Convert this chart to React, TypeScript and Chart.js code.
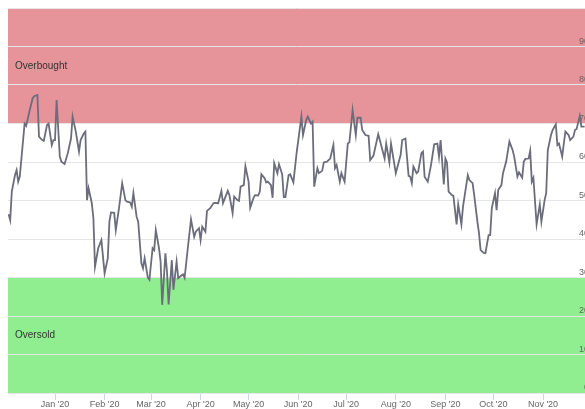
import React, { useEffect, useRef } from "react";
import { Chart, registerables } from "chart.js";

Chart.register(...registerables);

// Day offsets relative to 1 Jan 2020 (2020 is a leap year)
const days: number[] = [
  -29, -28, -27, -25, -24, -23, -22, -19, -18, -16, -14, -13, -11, -10, -8, -7, -5, -4, -2, -1,
  0, 1, 3, 4, 6, 8, 10, 11, 13, 15, 16, 18, 19, 20, 21, 23, 24, 25, 27, 29,
  31, 33, 34, 35, 37, 38, 40, 42, 44, 45, 47, 48, 49, 51, 52, 54, 55, 56, 58, 59,
  61, 62, 63, 65, 66, 67, 69, 70, 71, 73, 74, 76, 77, 79, 80, 81, 83, 85, 87, 88,
  90, 91, 92, 94, 95, 97, 99, 100, 102, 104, 105, 108, 109, 111, 112, 114, 115, 116, 118, 119,
  121, 122, 124, 125, 127, 128, 129, 131, 132, 133, 135, 136, 137, 139, 140, 142, 143, 144, 146, 147,
  149, 151, 154, 155, 157, 158, 160, 161, 162, 164, 165, 167, 168, 170, 172, 174, 175, 176, 178, 179,
  181, 183, 184, 186, 188, 189, 191, 192, 194, 196, 197, 199, 202, 203, 206, 207, 209, 210, 213, 216,
  217, 219, 221, 222, 223, 224, 226, 227, 229, 230, 231, 233, 235, 237, 239, 240, 241, 243, 244, 245,
  246, 248, 249, 251, 252, 254, 255, 258, 259, 261, 262, 264, 265, 266, 268, 269, 271, 272, 273, 275,
  276, 277, 279, 280, 282, 284, 286, 287, 289, 290, 292, 293, 294, 296, 297, 298, 299, 301, 303, 304,
  306, 307, 308, 310, 311, 313, 314, 315, 317, 318, 319, 321, 322, 324, 325, 326, 328, 329, 331,
];

const rsiValues: number[] = [
  46.4, 44.9, 52.3, 56.6, 57.9, 54.9, 56.2, 70.0, 69.4, 73.1, 76.5, 77.1, 77.4, 66.6, 65.7, 65.5, 69.6, 70.0, 64.4, 65.7,
  65.7, 76.1, 61.4, 60.1, 59.5, 62.3, 66.1, 71.8, 67.9, 62.7, 65.7, 67.4, 67.9, 50.1, 53.2, 49.3, 45.4, 32.8, 37.6, 39.7,
  31.1, 35.0, 44.5, 46.9, 46.8, 42.3, 48.0, 54.5, 50.1, 49.7, 49.5, 48.4, 51.9, 45.8, 44.5, 33.7, 32.4, 35.0, 30.0, 29.4,
  37.6, 37.1, 42.3, 37.6, 34.1, 22.9, 36.3, 31.5, 23.0, 34.5, 26.8, 34.1, 29.8, 30.5, 30.8, 29.9, 37.6, 45.1, 40.6, 41.9,
  42.8, 39.7, 43.2, 41.9, 47.3, 48.0, 49.3, 49.4, 49.3, 52.5, 49.3, 52.5, 51.4, 46.7, 51.0, 50.1, 49.9, 53.6, 54.0, 58.9,
  54.9, 48.1, 50.6, 51.4, 51.3, 52.3, 56.8, 55.8, 54.7, 54.9, 54.0, 50.7, 59.7, 57.1, 59.4, 56.8, 50.9, 50.9, 56.6, 56.8,
  54.7, 62.3, 71.8, 67.0, 70.9, 71.8, 70.0, 70.5, 53.6, 58.4, 57.1, 57.7, 59.9, 60.1, 60.9, 64.4, 58.4, 59.2, 54.9, 57.1,
  54.9, 64.8, 65.1, 73.5, 67.0, 71.5, 71.5, 68.3, 67.0, 66.8, 60.5, 61.6, 67.2, 65.7, 60.9, 64.8, 59.9, 64.8, 57.1, 61.8,
  65.7, 66.1, 56.4, 56.2, 54.5, 58.8, 57.1, 57.5, 62.3, 62.7, 56.2, 54.9, 59.2, 64.6, 64.8, 61.4, 65.7, 54.2, 60.9, 59.9,
  52.3, 51.4, 51.2, 43.8, 49.0, 43.8, 48.4, 56.6, 55.3, 54.5, 51.4, 44.5, 41.5, 37.1, 36.4, 36.3, 41.0, 41.0, 48.0, 51.9,
  47.5, 52.7, 54.0, 57.1, 60.1, 65.3, 63.1, 61.4, 56.2, 57.3, 55.9, 60.1, 60.8, 60.9, 62.9, 54.9, 55.9, 43.8, 49.0, 44.5,
  50.1, 51.9, 63.1, 67.0, 68.3, 69.8, 64.4, 64.8, 61.4, 64.8, 67.9, 67.0, 65.7, 66.6, 68.3, 68.6, 72.0, 69.2, 69.2,
];

const monthTickDays: number[] = [0, 31, 60, 91, 121, 152, 182, 213, 244, 274, 305];
const monthTickLabels: string[] = [
  "Jan '20", "Feb '20", "Mar '20", "Apr '20", "May '20", "Jun '20",
  "Jul '20", "Aug '20", "Sep '20", "Oct '20", "Nov '20",
];

const overboughtBand = [70, 100];
const oversoldBand = [0, 30];
const bandLabels = ["Overbought", "Oversold"];

const FONT = "'Liberation Sans', Arial, sans-serif";

const bandsPlugin = {
  id: "rsiBands",
  beforeDraw(chart: any) {
    const { ctx, chartArea, scales } = chart;
    const y = scales.y;
    const bands = [
      { range: overboughtBand, color: "#e6949a", label: bandLabels[0] },
      { range: oversoldBand, color: "#90ee90", label: bandLabels[1] },
    ];
    ctx.save();
    for (const b of bands) {
      const top = y.getPixelForValue(b.range[1]);
      const bottom = y.getPixelForValue(b.range[0]);
      ctx.fillStyle = b.color;
      ctx.fillRect(chartArea.left, top, chartArea.right - chartArea.left, bottom - top);
      ctx.fillStyle = "#333333";
      ctx.font = `10px ${FONT}`;
      ctx.textAlign = "left";
      ctx.textBaseline = "middle";
      ctx.fillText(b.label, chartArea.left + 7, (top + bottom) / 2);
    }
    ctx.restore();
  },
};

export default function App() {
  const canvasRef = useRef<HTMLCanvasElement | null>(null);

  useEffect(() => {
    if (!canvasRef.current) return;
    const chart = new Chart(canvasRef.current, {
      type: "line",
      data: {
        datasets: [
          {
            label: "RSI",
            data: days.map((d, i) => ({ x: d, y: rsiValues[i] })),
            borderColor: "#6c6c7c",
            borderWidth: 1.8,
            pointRadius: 0,
            fill: false,
            tension: 0,
          },
        ],
      },
      options: {
        animation: false,
        responsive: true,
        maintainAspectRatio: false,
        layout: { padding: { left: 8, top: 8, right: 0, bottom: 0 } },
        plugins: {
          legend: { display: false },
          tooltip: { enabled: false },
        },
        scales: {
          x: {
            type: "linear",
            min: -29.375,
            max: 331.25,
            afterBuildTicks: (s: any) => {
              s.ticks = monthTickDays.map((v) => ({ value: v }));
            },
            afterFit: (s: any) => {
              s.height = 16;
              s.paddingLeft = 0;
              s.paddingRight = 0;
            },
            grid: {
              drawOnChartArea: false,
              drawTicks: true,
              tickLength: 7,
              color: "#ccd6eb",
            },
            border: { display: false },
            ticks: {
              autoSkip: false,
              maxRotation: 0,
              padding: -1,
              color: "#666666",
              font: { size: 9, family: FONT },
              callback: (v: any) => {
                const i = monthTickDays.indexOf(Number(v));
                return i >= 0 ? monthTickLabels[i] : "";
              },
            },
          },
          y: {
            position: "right",
            min: 0,
            max: 100,
            afterFit: (s: any) => {
              s.width = 0;
              s.paddingTop = 0;
              s.paddingBottom = 0;
            },
            grid: { color: "#e6e6e6", drawTicks: false },
            border: { display: false },
            ticks: {
              stepSize: 10,
              mirror: true,
              padding: 4,
              labelOffset: -5,
              color: "#666666",
              font: { size: 9, family: FONT },
              callback: (v: any) => (Number(v) === 100 ? "" : String(v)),
            },
          },
        },
      },
      plugins: [bandsPlugin],
    });
    return () => chart.destroy();
  }, []);

  return (
    <div style={{ position: "fixed", left: 0, top: 0, width: 585, height: 409 }}>
      <canvas ref={canvasRef} />
    </div>
  );
}
